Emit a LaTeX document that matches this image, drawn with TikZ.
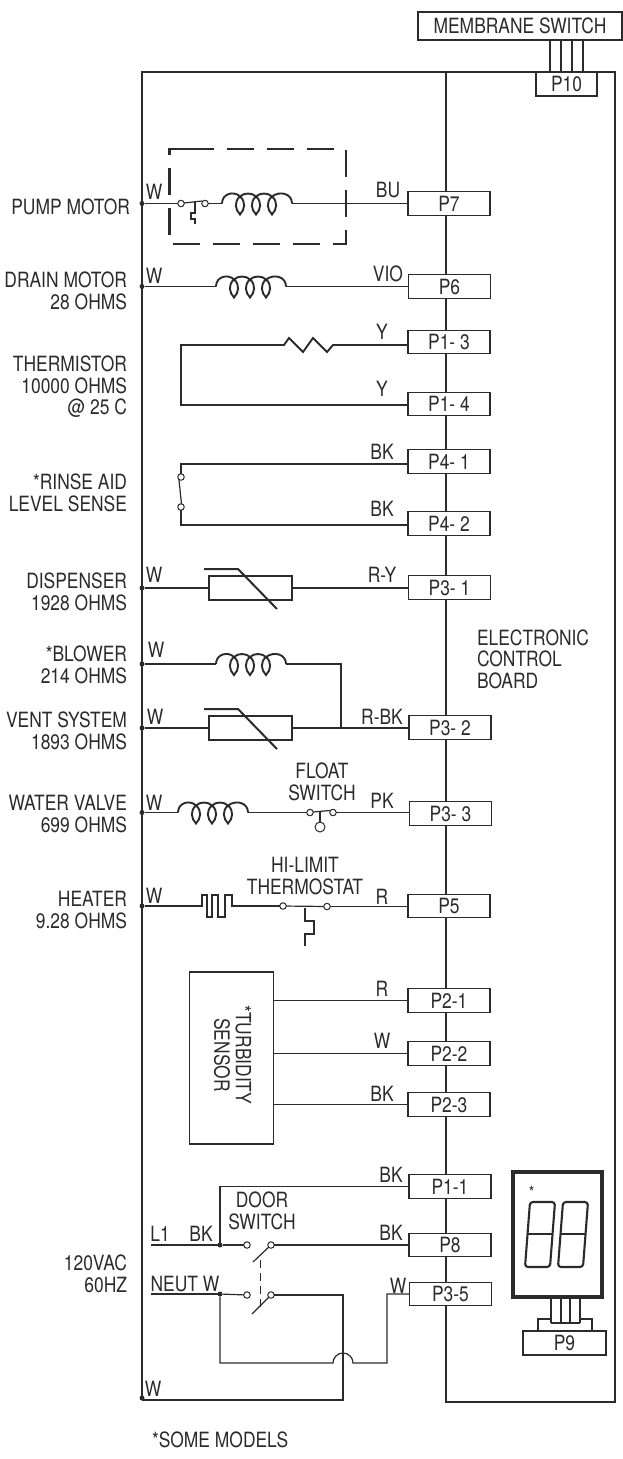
\documentclass[tikz,border=0pt]{standalone}
\usepackage{fontspec}
\setmainfont[FakeStretch=0.83]{TeX Gyre Heros}
\usetikzlibrary{positioning}
\definecolor{ink}{HTML}{2B2B2B}
\tikzset{
	conn/.style={fill=white,draw=ink,text=ink,line width=1.1pt,minimum width=82pt,minimum height=23.5pt,inner sep=0pt,outer sep=0pt,font=\fontsize{21}{22}\selectfont},
	lbl/.style={text=ink,inner sep=0pt,outer sep=0pt,align=center,font=\fontsize{21}{21.5}\selectfont},
	side/.style={lbl,anchor=east,align=right},
	term/.style={circle,draw=ink,fill=white,line width=1pt,inner sep=0pt,minimum size=6.5pt,outer sep=0pt},
	dot/.style={circle,fill=ink,inner sep=0pt,minimum size=5pt,outer sep=0pt},
	coil/.pic={
		\coordinate (-a) at (0,0);
		\coordinate (-b) at (70,0);
		\draw[line width=1.9pt,ink] (0,0) .. controls (0,-10) and (12,-13) .. (18,-7)
			.. controls (24,-2) and (23,6) .. (18,11) .. controls (13,6) and (12,-2) .. (18,-7)
			.. controls (22,-11) and (30,-11) .. (34,-7)
			.. controls (40,-2) and (39,6) .. (34,11) .. controls (29,6) and (28,-2) .. (34,-7)
			.. controls (38,-11) and (46,-11) .. (50,-7)
			.. controls (56,-2) and (55,6) .. (50,11) .. controls (45,6) and (44,-2) .. (50,-7)
			.. controls (58,-13) and (70,-10) .. (70,0);
	},
	ptc/.pic={
		\coordinate (-a) at (0,0);
		\coordinate (-b) at (83,0);
		\draw[line width=2.4pt,ink] (0,-12) rectangle (83,12);
		\draw[line width=2pt,ink] (-5,-19) -- (29,-19) -- (68,21);
	},
	digit/.pic={
		\draw[line width=2.1pt,ink,rounded corners=3pt] (5,0) -- (30,0) -- (25,65) -- (0,65) -- cycle;
		\draw[line width=2.1pt,ink] (2.5,32) -- (27.5,32);
	},
}
\begin{document}
\begin{tikzpicture}[x=1pt,y=-1pt,draw=ink,line width=1.2pt]
	\useasboundingbox (0,0) rectangle (623,1459);

	%board and frame
	\draw[line width=1.4pt] (446,72) rectangle (615,1402);
	\coordinate (framea) at (446,72);
	\coordinate (frameb) at (142,72);
	\coordinate (framec) at (142,1400);
	\draw (framea) -- (frameb) -- (framec);
	\node (board) at (477,659) [lbl,anchor=west,align=left] {ELECTRONIC\\CONTROL\\BOARD};

	%connectors
	\node (p10) at (566.5,84) [conn,minimum width=61pt,minimum height=24pt] {P10};
	\node (p7) at (449,203.5) [conn] {P7};
	\node (p6) at (449.5,286.5) [conn] {P6};
	\node (p13) at (449,342) [conn] {P1- 3};
	\node (p14) at (449,404) [conn] {P1- 4};
	\node (p41) at (449,461.5) [conn] {P4- 1};
	\node (p42) at (449,523.5) [conn] {P4- 2};
	\node (p31) at (449.5,587.5) [conn] {P3- 1};
	\node (p32) at (450,727.5) [conn] {P3- 2};
	\node (p33) at (450.5,813.5) [conn] {P3- 3};
	\node (p5) at (449,906) [conn] {P5};
	\node (p21) at (449,1000.5) [conn] {P2-1};
	\node (p22) at (449,1053.5) [conn] {P2-2};
	\node (p23) at (449,1104.5) [conn] {P2-3};
	\node (p11) at (450,1186.5) [conn] {P1-1};
	\node (p8) at (450,1245) [conn] {P8};
	\node (p35) at (450.5,1294) [conn] {P3-5};

	%membrane switch
	\node (membrane) at (520,26) [conn,minimum width=204pt,minimum height=28pt,line width=1.4pt] {MEMBRANE SWITCH};
	\foreach \x in {550,561,572,583} {
		\draw (\x,40) -- (\x,72);
	}

	%pump motor
	\draw[line width=2.2pt,dash pattern=on 27pt off 13pt] (187,149) -- (346,149) -- (346,244) -- (169.5,244) -- (169.5,149) -- (187,149);
	\node (pumpdot) at (142,203.5) [dot] {};
	\node (pumpa) at (181,203.5) [term] {};
	\node (pumpb) at (205,203.5) [term] {};
	\pic (pumpcoil) at (222,203.5) {coil};
	\path (pumpdot) edge (pumpa);
	\path (pumpb) edge (pumpcoil-a);
	\path (pumpcoil-b) edge (p7);
	\draw (184,203) -- (202,201);
	\draw (195,202) -- (195,213) -- (191,213) -- (191,219) -- (195,219) -- (195,224);
	\node (pumplabel) at (130,207) [side] {PUMP MOTOR};
	\node (pumpw) at (154,192) [lbl] {W};
	\node (pumpbu) at (388,190) [lbl] {BU};

	%drain motor
	\node (draindot) at (142,286.5) [dot] {};
	\pic (draincoil) at (216,286.5) {coil};
	\path (draindot) edge (draincoil-a);
	\path (draincoil-b) edge (p6);
	\node (drainlabel) at (127,291) [side] {DRAIN MOTOR\\28 OHMS};
	\node (drainw) at (154,276) [lbl] {W};
	\node (drainvio) at (388,274) [lbl] {VIO};

	%thermistor
	\coordinate (thermc) at (181,345);
	\coordinate (thermd) at (181,405);
	\coordinate (therma) at (273,345);
	\coordinate (thermb) at (343,345);
	\draw[line width=1.9pt] (therma) -- (284,345) -- (289,338) -- (303,352) -- (313,338) -- (327,352) -- (333,345) -- (thermb);
	\path (thermb) edge (thermb -| p13.west);
	\draw (therma) -- (thermc) -- (thermd) -- (thermd -| p14.west);
	\node (thermlabel) at (127,387) [side] {THERMISTOR\\10000 OHMS\\@ 25 C};
	\node (thermy) at (382,332) [lbl] {Y};
	\node (thermz) at (382,389) [lbl] {Y};

	%rinse aid
	\coordinate (rinsec) at (181,464);
	\coordinate (rinsed) at (181,525);
	\node (rinsea) at (181,477) [term] {};
	\node (rinseb) at (181,507) [term] {};
	\draw (rinsec -| p41.west) -- (rinsec) -- (rinsea);
	\draw (rinsed -| p42.west) -- (rinsed) -- (rinseb);
	\draw (179,480) -- (181.5,504);
	\node (rinselabel) at (127,493) [side] {*RINSE AID\\LEVEL SENSE};
	\node (rinsex) at (382,452) [lbl] {BK};
	\node (rinsey) at (382,509) [lbl] {BK};

	%dispenser
	\node (dispdot) at (142,588) [dot] {};
	\pic (dispptc) at (209,588) {ptc};
	\path (dispdot) edge (dispptc-a);
	\path (dispptc-b) edge (dispptc-b -| p31.west);
	\node (displabel) at (127,592) [side] {DISPENSER\\1928 OHMS};
	\node (dispw) at (154,575) [lbl] {W};
	\node (dispry) at (382,575) [lbl] {R-Y};

	%blower and vent
	\node (blowdot) at (142,664) [dot] {};
	\pic (blowcoil) at (216,664) {coil};
	\coordinate (blowjoin) at (341,664);
	\coordinate (ventjoin) at (341,728);
	\path (blowdot) edge (blowcoil-a);
	\draw (blowcoil-b) -- (blowjoin) -- (ventjoin);
	\node (blowlabel) at (127,665) [side] {*BLOWER\\214 OHMS};
	\node (blowrw) at (156,650) [lbl] {W};
	\node (ventdot) at (142,728) [dot] {};
	\pic (ventptc) at (209,728) {ptc};
	\path (ventdot) edge (ventptc-a);
	\path (ventptc-b) edge (ventptc-b -| p32.west);
	\node (ventlabel) at (127,731) [side] {VENT SYSTEM\\1893 OHMS};
	\node (ventw) at (155,717) [lbl] {W};
	\node (ventrbk) at (382,717) [lbl] {R-BK};

	%water valve
	\node (waterdot) at (142,812.5) [dot] {};
	\pic (watercoil) at (178,812.5) {coil};
	\node (floata) at (310,812.5) [term] {};
	\node (floatb) at (333,812.5) [term] {};
	\node (floatball) at (320,827) [term,minimum size=10pt] {};
	\path (waterdot) edge (watercoil-a);
	\path (watercoil-b) edge (floata);
	\path (floatb) edge (floatb -| p33.west);
	\draw (313,812) -- (330,810.5);
	\draw (320,811) -- (floatball);
	\node (waterlabel) at (127,814) [side] {WATER VALVE\\699 OHMS};
	\node (waterw) at (154,803) [lbl] {W};
	\node (floatlabel) at (322,782) [lbl] {FLOAT\\SWITCH};
	\node (waterpk) at (382,801) [lbl] {PK};

	%heater
	\node (heatdot) at (142,906) [dot] {};
	\coordinate (heata) at (196,906);
	\coordinate (heatb) at (236,906);
	\node (limita) at (283,906) [term] {};
	\node (limitb) at (327,906.5) [term] {};
	\draw[line width=2.2pt] (heata) -- (202,906) -- (202,895) -- (207,895) -- (207,917) -- (212,917) -- (212,895) -- (218,895) -- (218,917) -- (225,917) -- (225,895) -- (232,895) -- (232,906) -- (heatb);
	\path (heatdot) edge (heata);
	\path (heatb) edge (limita);
	\path (limitb) edge (limitb -| p5.west);
	\path (limita) edge (limitb);
	\draw (305,908) -- (305,921) -- (314,921) -- (314,934) -- (305,934) -- (305,946);
	\node (heatlabel) at (127,910) [side] {HEATER\\9.28 OHMS};
	\node (heatw) at (154,896) [lbl] {W};
	\node (limitlabel) at (305,876) [lbl] {HI-LIMIT\\THERMOSTAT};
	\node (heatr) at (382,897) [lbl] {R};

	%turbidity sensor
	\node (turb) at (231.5,1058) [draw=ink,minimum width=84pt,minimum height=172pt,inner sep=0pt,outer sep=0pt] {};
	\node (turblabel) at (232.5,1055) [lbl,rotate=-90] {*TURBIDITY\\SENSOR};
	\path (turb.east |- p21) edge (p21);
	\path (turb.east |- p22) edge (p22);
	\path (turb.east |- p23) edge (p23);
	\node (turbr) at (382,989) [lbl] {R};
	\node (turbw) at (382,1041) [lbl] {W};
	\node (turbbk) at (382,1094) [lbl] {BK};

	%door switch
	\coordinate (linein) at (151,1245);
	\coordinate (neutin) at (151,1294);
	\node (linedot) at (220,1245) [dot] {};
	\node (neutdot) at (220,1294) [dot] {};
	\node (doora) at (247,1245) [term] {};
	\node (doorb) at (271,1245) [term] {};
	\node (doorc) at (247,1295) [term] {};
	\node (doord) at (271,1295) [term] {};
	\path (linein) edge (linedot);
	\path (linedot) edge (doora);
	\path (doorb) edge (p8);
	\path (neutin) edge (neutdot);
	\path (neutdot) edge (doorc);
	\draw (linedot) -- (linedot |- p11) -- (p11);
	\draw (253,1262) -- (doorb);
	\draw (252,1314) -- (doord);
	\draw[line width=1pt,dash pattern=on 8pt off 5pt] (260,1260) -- (260,1312);
	\node (linel) at (160,1234) [lbl] {L1};
	\node (linebk) at (201,1234) [lbl] {BK};
	\node (neutl) at (185,1284) [lbl] {NEUT W};
	\node (doorlabel) at (262,1211) [lbl] {DOOR\\SWITCH};
	\node (supplylabel) at (127,1274) [side] {120VAC\\60HZ};
	\node (p11bk) at (391,1175) [lbl] {BK};
	\node (p8bk) at (391,1233) [lbl] {BK};
	\node (p35w) at (398,1286) [lbl] {W};

	%return wires
	\coordinate (jumpa) at (333,1363);
	\coordinate (jumpb) at (353,1363);
	\coordinate (backdown) at (343,1400);
	\node (backdot) at (142,1398) [dot] {};
	\node (backw) at (153,1389) [lbl] {W};
	\draw (doord) -- (343,1295) -- (backdown) -- (framec);
	\draw (neutdot) -- (neutdot |- jumpa) -- (jumpa) arc[start angle=180,end angle=360,radius=10] -- (387,1363) -- (387,1294) -- (p35);

	%display
	\draw[line width=3.6pt] (513,1172) rectangle (602,1297);
	\foreach \x in {551,561,570,580} {
		\draw (\x,1298) -- (\x,1323);
	}
	\draw (551,1323) -- (580,1323);
	\draw (538,1331) -- (538,1319) -- (551,1319);
	\draw (580,1319) -- (592,1319) -- (592,1331);
	\pic (digita) at (525,1202) {digit};
	\pic (digitb) at (558,1202) {digit};
	\node (digitstar) at (531.5,1192) [lbl,font=\fontsize{17}{17}\selectfont] {*};
	\node (p9) at (564.5,1343) [conn,minimum width=83pt,minimum height=24pt] {P9};

	\node (note) at (152,1440) [lbl,anchor=west] {*SOME MODELS};
\end{tikzpicture}
\end{document}
